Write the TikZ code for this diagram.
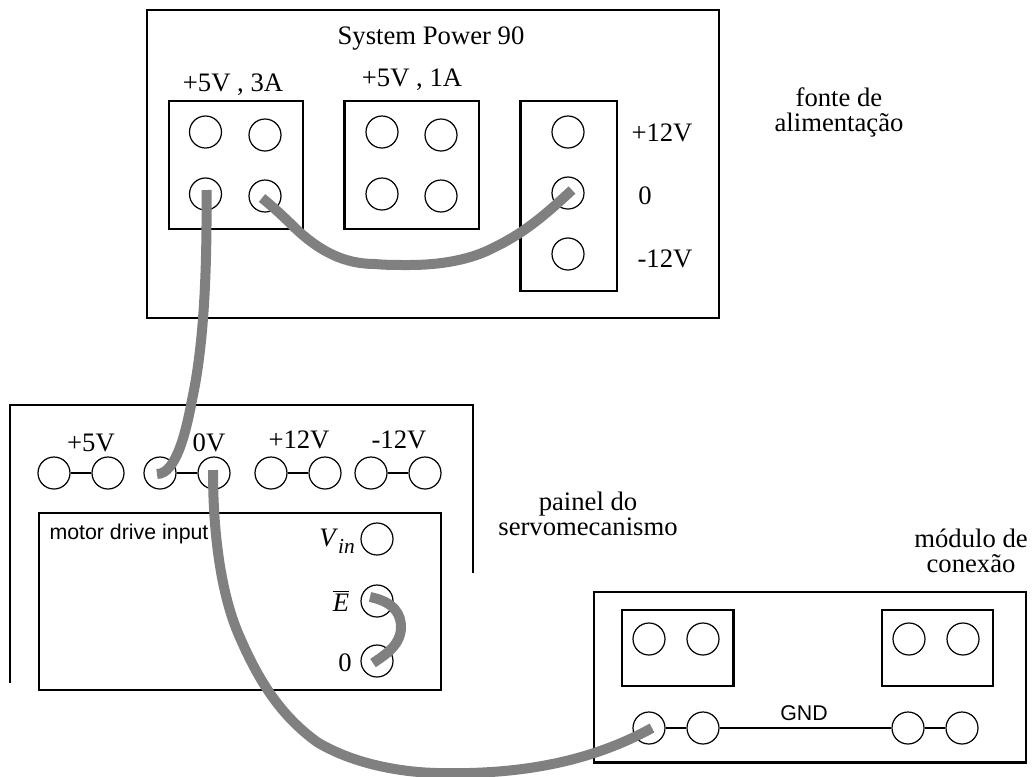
\documentclass[tikz,border=0pt]{standalone}
\usepackage{fontspec}
\setmainfont{Liberation Serif}
\setsansfont{Liberation Sans}
\tikzset{
  jack/.style={draw,circle,line width=0.9pt,minimum size=24pt,inner sep=0pt},
  link/.style={line width=2pt},
  panel/.style={line width=1.6pt},
  wire/.style={line width=7.5pt,color=gray},
  lbl/.style={inner sep=0pt,align=center,font=\fontsize{20}{18.75}\selectfont},
  sanslbl/.style={inner sep=0pt,font=\sffamily\fontsize{16}{18}\selectfont}
}
\begin{document}
\begin{tikzpicture}[x=0.75pt,y=-0.75pt]
\useasboundingbox (0,0) rectangle (1032,776);

\draw[panel] (147,10) rectangle (719,318);
\draw[panel] (169,101) rectangle (303,229);
\draw[panel] (344.5,101) rectangle (479,229);
\draw[panel] (520.5,101) rectangle (617,291);
\draw[panel] (10,683) -- (10,405) -- (473,405) -- (473,573);
\draw[panel] (39,513) rectangle (441,690);
\draw[panel] (594,592) rectangle (1026,762.5);
\draw[panel] (622,610) rectangle (733.5,686);
\draw[panel] (882,610) rectangle (993,686);

\node[lbl] (power) at (431,39) {System Power 90};
\node[lbl] (rail3a) at (233,85) {+5V , 3A};
\node[lbl] (rail1a) at (412,80) {+5V , 1A};
\node[lbl] (railp) at (662,133) {+12V};
\node[lbl] (railz) at (645,196) {0};
\node[lbl] (railm) at (665,259) {-12V};
\node[lbl] (fonte) at (839,112) {fonte de\\alimenta\c{c}\~ao};
\node[lbl] (painel) at (588,514) {painel do\\servomecanismo};
\node[lbl] (modulo) at (971,551) {m\'odulo de\\conex\~ao};

\node[lbl] (p5v) at (91,443) {+5V};
\node[lbl] (p0v) at (209,443) {0V};
\node[lbl] (p12v) at (299,440) {+12V};
\node[lbl] (m12v) at (399,440) {-12V};
\node[sanslbl] (drive) at (129,534) {motor drive input};
\node[lbl] (vinlbl) at (337,541) {\textit{V}\raisebox{-5pt}{\fontsize{16}{16}\selectfont\textit{in}}};
\node[lbl] (elbl) at (341,601) {$\overline{\textit{E}}$};
\node[lbl] (zlbl) at (345,663) {0};
\node[sanslbl] (gnd) at (804,713) {GND};

\node[jack] (a1) at (205.5,132) {};
\node[jack] (a2) at (265,135) {};
\node[jack] (a3) at (205.5,194) {};
\node[jack] (a4) at (265,196) {};
\node[jack] (b1) at (382,132) {};
\node[jack] (b2) at (441,135) {};
\node[jack] (b3) at (382,194) {};
\node[jack] (b4) at (441,196) {};
\node[jack] (c1) at (568,132) {};
\node[jack] (c2) at (568,193) {};
\node[jack] (c3) at (568,254) {};

\node[jack] (s1) at (54,473) {};
\node[jack] (s2) at (108,473) {};
\node[jack] (s3) at (160,473) {};
\node[jack] (s4) at (214,473) {};
\node[jack] (s5) at (271,473) {};
\node[jack] (s6) at (325,473) {};
\node[jack] (s7) at (371,473) {};
\node[jack] (s8) at (425,473) {};
\node[jack] (vin) at (377,539) {};
\node[jack] (ebar) at (377,601) {};
\node[jack] (zero) at (377,661) {};

\node[jack] (d1) at (649,639) {};
\node[jack] (d2) at (703,639) {};
\node[jack] (d3) at (909,639) {};
\node[jack] (d4) at (963,639) {};
\node[jack] (g1) at (649,728) {};
\node[jack] (g2) at (703,728) {};
\node[jack] (g3) at (908,728) {};
\node[jack] (g4) at (962,728) {};

\draw[link] (s1) -- (s2);
\draw[link] (s3) -- (s4);
\draw[link] (s5) -- (s6);
\draw[link] (s7) -- (s8);
\draw[link] (g1) -- (g2);
\draw[link] (g2) -- (g3);
\draw[link] (g3) -- (g4);

\draw[wire] ([shift={(1,-4)}]a3.center) .. controls (207,260) and (205,340) .. (192,400) .. controls (186,432) and (176,474) .. ([shift={(-3,1)}]s3.center);
\draw[wire] ([shift={(-3,2)}]a4.center) .. controls (272,206) and (284,217) .. (294,227) .. controls (320,252) and (345,264) .. (375,264) .. controls (385,265) and (395,265) .. (409,265) .. controls (440,265) and (470,260) .. (493,248) .. controls (520,235) and (540,220) .. ([shift={(4,-3)}]c2.center);
\draw[wire] ([shift={(-7,-4)}]ebar.center) .. controls (395,602) and (401,615) .. (401,627) .. controls (401,645) and (385,655) .. ([shift={(-4,2)}]zero.center);
\draw[wire] ([shift={(-1,-3)}]s4.center) .. controls (213,530) and (220,590) .. (238,633) .. controls (258,680) and (280,715) .. (317,742) .. controls (350,762) and (395,772) .. (437,773) .. controls (520,775) and (590,762) .. ([shift={(3,0)}]g1.center);
\end{tikzpicture}
\end{document}
